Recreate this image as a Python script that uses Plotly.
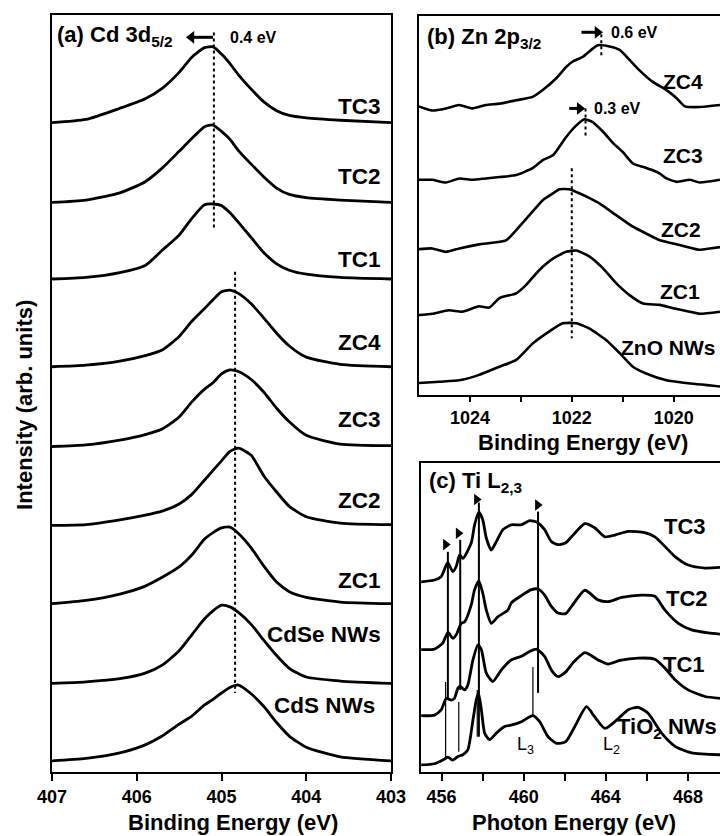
import plotly.graph_objects as go

FONT = "Liberation Sans, Arial, sans-serif"

# ---------------- Panel (a): Cd 3d5/2 XPS ----------------
BE_A = [407.0, 406.6, 406.2, 405.9, 405.7, 405.5, 405.35, 405.2, 405.1, 405.0,
        404.9, 404.8, 404.65, 404.5, 404.35, 404.2, 404.0, 403.6, 403.0]
CDS_A = [0, 0.03, 0.10, 0.20, 0.31, 0.46, 0.56, 0.70, 0.77, 0.85, 0.92, 0.95, 0.84, 0.68, 0.48, 0.31, 0.17, 0.05, 0]
CDSE_A = [0, 0.02, 0.06, 0.13, 0.23, 0.41, 0.61, 0.81, 0.91, 0.98, 0.96, 0.89, 0.74, 0.54, 0.35, 0.19, 0.08, 0.03, 0]
ZC1_A = [0, 0.04, 0.12, 0.22, 0.33, 0.46, 0.61, 0.81, 0.89, 0.95, 0.96, 0.88, 0.70, 0.47, 0.27, 0.15, 0.08, 0.02, 0]
ZC2_A = [0, 0.01, 0.07, 0.13, 0.18, 0.27, 0.39, 0.57, 0.69, 0.81, 0.93, 0.97, 0.88, 0.62, 0.42, 0.24, 0.11, 0.03, 0.01]
ZC3_A = [0, 0.02, 0.08, 0.15, 0.22, 0.37, 0.56, 0.72, 0.80, 0.91, 0.96, 0.94, 0.84, 0.68, 0.48, 0.31, 0.14, 0.03, 0.01]
ZC4_A = [0, 0.02, 0.07, 0.14, 0.21, 0.38, 0.57, 0.73, 0.84, 0.94, 0.96, 0.92, 0.79, 0.61, 0.42, 0.26, 0.12, 0.03, 0]
TC1_A = [0, 0.02, 0.08, 0.17, 0.36, 0.55, 0.76, 0.93, 0.94, 0.92, 0.83, 0.71, 0.52, 0.33, 0.19, 0.11, 0.06, 0.02, 0]
TC2_A = [0, 0.03, 0.12, 0.26, 0.43, 0.64, 0.80, 0.95, 0.97, 0.89, 0.79, 0.65, 0.48, 0.32, 0.18, 0.10, 0.06, 0.03, 0]
TC3_A = [0, 0.04, 0.18, 0.30, 0.43, 0.63, 0.82, 0.94, 0.95, 0.86, 0.74, 0.60, 0.42, 0.26, 0.15, 0.09, 0.06, 0.03, 0]
SERIES_A = [CDS_A, CDSE_A, ZC1_A, ZC2_A, ZC3_A, ZC4_A, TC1_A, TC2_A, TC3_A]
NAMES_A = ["CdS NWs", "CdSe NWs", "ZC1", "ZC2", "ZC3", "ZC4", "TC1", "TC2", "TC3"]
OFFSETS_A = [0, 0.97, 1.97, 2.95, 3.94, 4.94, 6.04, 7.0, 8.0]
LABEL_Y_A = [0.69, 1.58, 2.26, 3.26, 4.28, 5.24, 6.28, 7.32, 8.2]
TICKS_A = [407, 406, 405, 404, 403]

# ---------------- Panel (b): Zn 2p3/2 XPS (stacked values) ----------------
ZNO_E = [1025.0, 1024.60, 1024.21, 1023.82, 1023.42, 1023.09, 1022.77, 1022.44, 1022.18, 1021.91,
         1021.65, 1021.32, 1021.06, 1020.80, 1020.54, 1020.14, 1019.75, 1019.09]
ZNO_I = [0.00, 0.02, 0.04, 0.12, 0.24, 0.34, 0.58, 0.76, 0.88, 0.88,
         0.80, 0.63, 0.44, 0.24, 0.14, 0.04, 0.00, -0.05]
ZC1_E = [1025.0, 1024.74, 1024.41, 1024.15, 1023.82, 1023.62, 1023.42, 1023.09, 1022.90, 1022.64,
         1022.37, 1022.11, 1021.91, 1021.65, 1021.39, 1021.13, 1020.86, 1020.60, 1020.27, 1020.01,
         1019.68, 1019.49, 1019.09]
ZC1_I = [1.00, 1.02, 1.07, 1.05, 1.13, 1.11, 1.25, 1.32, 1.44, 1.66,
         1.83, 1.93, 1.95, 1.86, 1.69, 1.47, 1.29, 1.17, 1.15, 1.10,
         1.05, 1.02, 1.05]
ZC2_E = [1025.0, 1024.74, 1024.47, 1024.21, 1023.82, 1023.29, 1023.09, 1022.83, 1022.57, 1022.37,
         1022.24, 1022.05, 1021.91, 1021.65, 1021.45, 1021.13, 1020.80, 1020.54, 1020.27, 1019.88,
         1019.49, 1019.29, 1019.09]
ZC2_I = [1.97, 1.98, 1.93, 1.98, 2.04, 2.10, 2.25, 2.47, 2.69, 2.79,
         2.85, 2.85, 2.81, 2.72, 2.64, 2.47, 2.30, 2.20, 2.10, 2.03,
         1.96, 1.98, 2.00]
ZC3_E = [1025.0, 1024.74, 1024.47, 1024.21, 1023.95, 1023.69, 1023.42, 1023.09, 1022.77, 1022.57,
         1022.37, 1022.24, 1022.11, 1021.91, 1021.75, 1021.59, 1021.39, 1021.19, 1021.00, 1020.80,
         1020.60, 1020.41, 1020.27, 1020.14, 1019.94, 1019.68, 1019.49, 1019.09]
ZC3_I = [2.99, 2.99, 2.95, 3.01, 2.99, 3.01, 3.03, 3.06, 3.16, 3.28,
         3.35, 3.48, 3.62, 3.79, 3.88, 3.84, 3.70, 3.53, 3.40, 3.23,
         3.18, 3.13, 3.08, 3.01, 2.96, 2.99, 2.95, 2.99]
ZC4_E = [1025.0, 1024.74, 1024.47, 1024.21, 1023.95, 1023.69, 1023.42, 1023.09, 1022.77, 1022.57,
         1022.31, 1022.11, 1021.98, 1021.78, 1021.59, 1021.49, 1021.26, 1021.06, 1020.86, 1020.67,
         1020.41, 1020.14, 1019.94, 1019.78, 1019.49, 1019.09]
ZC4_I = [4.07, 4.01, 4.04, 4.09, 4.04, 4.09, 4.11, 4.16, 4.21, 4.31,
         4.48, 4.65, 4.73, 4.80, 4.92, 4.97, 4.95, 4.90, 4.75, 4.60,
         4.43, 4.31, 4.19, 4.07, 4.06, 4.09]
SERIES_B = [(ZNO_E, ZNO_I), (ZC1_E, ZC1_I), (ZC2_E, ZC2_I), (ZC3_E, ZC3_I), (ZC4_E, ZC4_I)]
NAMES_B = ["ZnO NWs", "ZC1", "ZC2", "ZC3", "ZC4"]
LABEL_POS_B = [(1019.13, 0.53), (1019.45, 1.34), (1019.43, 2.26), (1019.39, 3.35), (1019.39, 4.43)]
TICKS_B = [1024, 1022, 1020]
MINOR_B = [1023, 1021]

# ---------------- Panel (c): Ti L2,3 XAS (stacked values) ----------------
TIO2_E = [455.01, 455.66, 456.15, 456.31, 456.55, 456.80, 457.04, 457.28, 457.53, 457.69,
          457.80, 457.94, 458.10, 458.34, 458.67, 459.07, 459.48, 459.89, 460.45, 460.78,
          461.19, 461.60, 462.05, 462.49, 463.06, 463.46, 463.95, 464.44, 465.09, 465.58,
          466.06, 466.72, 467.37, 468.18, 469.56]
TIO2_I = [0.00, 0.02, 0.10, 0.13, 0.08, 0.14, 0.17, 0.25, 0.75, 1.08,
          1.20, 0.92, 0.53, 0.42, 0.53, 0.64, 0.67, 0.72, 0.82, 0.72,
          0.47, 0.36, 0.39, 0.64, 0.97, 0.80, 0.61, 0.72, 0.92, 0.96,
          0.86, 0.53, 0.31, 0.20, 0.17]
TC1_E = [455.01, 455.66, 455.99, 456.23, 456.47, 456.63, 456.80, 456.91, 457.12, 457.28,
         457.53, 457.77, 457.94, 458.18, 458.50, 458.91, 459.40, 459.89, 460.29, 460.62,
         461.02, 461.35, 461.67, 462.05, 462.40, 462.98, 463.62, 464.11, 464.68, 465.58,
         466.39, 466.88, 467.37, 468.01, 468.83, 469.56]
TC1_I = [0.82, 0.83, 0.92, 1.11, 1.08, 1.11, 1.28, 1.31, 1.25, 1.33,
         1.75, 2.00, 1.92, 1.53, 1.39, 1.58, 1.75, 1.81, 1.89, 1.93,
         1.81, 1.58, 1.47, 1.55, 1.70, 1.87, 1.75, 1.68, 1.74, 1.78,
         1.76, 1.61, 1.42, 1.25, 1.14, 1.11]
TC2_E = [455.01, 455.66, 456.06, 456.31, 456.55, 456.72, 456.96, 457.12, 457.45, 457.61,
         457.82, 458.01, 458.18, 458.42, 458.75, 459.23, 459.40, 459.89, 460.38, 460.70,
         461.02, 461.35, 461.67, 462.05, 462.33, 462.98, 463.62, 464.11, 464.77, 465.74,
         466.39, 466.88, 467.53, 468.18, 468.99, 469.56]
TC2_I = [1.92, 1.93, 2.03, 2.21, 2.11, 2.17, 2.36, 2.38, 2.67, 2.92,
         3.06, 2.86, 2.58, 2.36, 2.47, 2.58, 2.70, 2.82, 2.92, 2.93,
         2.83, 2.64, 2.53, 2.52, 2.64, 2.91, 2.75, 2.72, 2.79, 2.83,
         2.81, 2.58, 2.36, 2.25, 2.20, 2.18]
TC3_E = [455.01, 455.66, 455.99, 456.23, 456.31, 456.55, 456.72, 456.88, 457.04, 457.45,
         457.61, 457.82, 458.01, 458.18, 458.42, 458.67, 458.99, 459.40, 459.89, 460.29,
         460.67, 461.02, 461.35, 461.67, 462.05, 462.33, 462.98, 463.46, 463.95, 464.44,
         465.09, 465.90, 466.39, 466.88, 467.37, 468.01, 468.83, 469.56]
TC3_I = [3.05, 3.08, 3.14, 3.33, 3.37, 3.22, 3.31, 3.50, 3.44, 3.70,
         4.00, 4.21, 4.08, 3.78, 3.58, 3.72, 3.92, 4.00, 4.00, 4.07,
         4.04, 3.92, 3.72, 3.67, 3.70, 3.80, 4.02, 3.95, 3.80, 3.83,
         3.89, 3.87, 3.80, 3.64, 3.47, 3.33, 3.28, 3.29]
SERIES_C = [(TIO2_E, TIO2_I), (TC1_E, TC1_I), (TC2_E, TC2_I), (TC3_E, TC3_I)]
NAMES_C = ["TiO<sub>2</sub> NWs", "TC1", "TC2", "TC3"]
LABEL_POS_C = [(469.5, 0.62), (468.93, 1.68), (469.07, 2.78), (468.98, 3.97)]
TICKS_C = [456, 460, 464, 468]
MINOR_C = [458, 462, 466]

# reference lines (energy, y-from, y-to)
TC_LINES_C = [(456.31, 3.55, 1.08), (456.91, 3.75, 1.25), (457.82, 4.37, 0.47), (460.70, 4.22, 1.20)]
TIO2_LINES_C = [(456.20, 1.38, 0.13), (456.84, 1.05, 0.22), (457.74, 1.25, 0.47), (460.45, 1.63, 0.83)]
MARKERS_C_E = [456.20, 456.82, 457.71, 460.68]
MARKERS_C_Y = [3.67, 3.86, 4.42, 4.33]

# shift arrows: (xaxis, yaxis, shaft tail, shaft end, head centre, y, head symbol)
SHIFT_ARROWS = [("x", "y", 405.10, 405.35, 405.355, 9.07, "triangle-left"),
                ("x2", "y2", 1021.81, 1021.50, 1021.495, 5.16, "triangle-right"),
                ("x2", "y2", 1022.05, 1021.85, 1021.845, 4.04, "triangle-right")]

fig = go.Figure()
LINE = dict(color="black", width=2.8, shape="spline", smoothing=0.6)

for vals, off in zip(SERIES_A, OFFSETS_A):
    fig.add_trace(go.Scatter(x=BE_A, y=[v + off for v in vals], mode="lines", line=LINE,
                             xaxis="x", yaxis="y", showlegend=False, hoverinfo="skip"))
for e, i in SERIES_B:
    fig.add_trace(go.Scatter(x=e, y=i, mode="lines", line=dict(color="black", width=2.6, shape="spline", smoothing=0.5),
                             xaxis="x2", yaxis="y2", showlegend=False, hoverinfo="skip"))
for e, i in SERIES_C:
    fig.add_trace(go.Scatter(x=e, y=i, mode="lines", line=dict(color="black", width=2.8, shape="spline", smoothing=0.6),
                             xaxis="x3", yaxis="y3", showlegend=False, hoverinfo="skip"))
fig.add_trace(go.Scatter(x=MARKERS_C_E, y=MARKERS_C_Y, mode="markers",
                         marker=dict(symbol="triangle-right", size=10, color="black"),
                         xaxis="x3", yaxis="y3", showlegend=False, hoverinfo="skip"))

shapes = []
for xr, yr, x0, x1, xh, yv, sym in SHIFT_ARROWS:
    shapes.append(dict(type="line", xref=xr, yref=yr, x0=x0, x1=x1, y0=yv, y1=yv,
                       line=dict(color="black", width=3)))
    fig.add_trace(go.Scatter(x=[xh], y=[yv], mode="markers",
                             marker=dict(symbol=sym, size=11, color="black"),
                             xaxis=xr, yaxis=yr, showlegend=False, hoverinfo="skip"))

for xr, yr, xv, y0, y1 in [("x", "y", 405.09, 9.13, 6.68), ("x", "y", 404.84, 6.13, 0.85),
                           ("x2", "y2", 1021.42, 5.13, 4.78), ("x2", "y2", 1021.73, 4.04, 3.60),
                           ("x2", "y2", 1022.0, 3.16, 0.66)]:
    shapes.append(dict(type="line", xref=xr, yref=yr, x0=xv, x1=xv, y0=y0, y1=y1,
                       line=dict(color="black", width=2, dash="dot")))
for xv, y0, y1 in TC_LINES_C:
    shapes.append(dict(type="line", xref="x3", yref="y3", x0=xv, x1=xv, y0=y0, y1=y1,
                       line=dict(color="black", width=2)))
for xv, y0, y1 in TIO2_LINES_C:
    shapes.append(dict(type="line", xref="x3", yref="y3", x0=xv, x1=xv, y0=y0, y1=y1,
                       line=dict(color="black", width=1.2)))

ann = []
def txt(x, y, s, xref, yref, size=22, xanchor="right", bold=True, yanchor="middle"):
    ann.append(dict(x=x, y=y, xref=xref, yref=yref, text=(f"<b>{s}</b>" if bold else s),
                    showarrow=False, xanchor=xanchor, yanchor=yanchor,
                    font=dict(family=FONT, size=size, color="black")))

for name, ly in zip(NAMES_A, LABEL_Y_A):
    txt(403.1 if "CdS " not in name else 403.17, ly, name, "x", "y", size=22.5)
for name, (lx, ly) in zip(NAMES_B, LABEL_POS_B):
    txt(lx, ly, name, "x2", "y2", size=21)
for name, (lx, ly) in zip(NAMES_C, LABEL_POS_C):
    txt(lx, ly, name, "x3", "y3", size=22)
txt(460.10, 0.33, "L<sub>3</sub>", "x3", "y3", size=18, xanchor="center", bold=False)
txt(464.29, 0.33, "L<sub>2</sub>", "x3", "y3", size=18, xanchor="center", bold=False)

txt(404.92, 9.07, "0.4 eV", "x", "y", size=16, xanchor="left")
txt(1021.26, 5.16, "0.6 eV", "x2", "y2", size=16, xanchor="left")
txt(1021.61, 4.04, "0.3 eV", "x2", "y2", size=16, xanchor="left")

txt(0.0764, 0.957, "(a) Cd 3d<sub>5/2</sub>", "paper", "paper", size=22, xanchor="left")
txt(0.590, 0.954, "(b) Zn 2p<sub>3/2</sub>", "paper", "paper", size=22, xanchor="left")
txt(0.593, 0.424, "(c) Ti L<sub>2,3</sub>", "paper", "paper", size=22, xanchor="left")

txt(0.3236, 0.0167, "Binding Energy (eV)", "paper", "paper", size=22, xanchor="center")
txt(0.81, 0.471, "Binding Energy (eV)", "paper", "paper", size=22, xanchor="center")
txt(0.797, 0.0167, "Photon Energy (eV)", "paper", "paper", size=22, xanchor="center")
ann.append(dict(x=0.0347, y=0.5156, xref="paper", yref="paper", text="<b>Intensity (arb. units)</b>",
                showarrow=False, textangle=-90, xanchor="center", yanchor="middle",
                font=dict(family=FONT, size=22, color="black")))

def xax(domain, rng, tickvals, anchor, minor_vals=None, ticklen=7):
    d = dict(domain=domain, range=rng, anchor=anchor, tickmode="array", tickvals=tickvals,
             ticktext=[f"<b>{t}</b>" for t in tickvals],
             showline=True, linecolor="black", linewidth=2, mirror=True,
             ticks="outside", ticklen=ticklen, tickwidth=2, tickcolor="black",
             tickfont=dict(family=FONT, size=18, color="black"),
             showgrid=False, zeroline=False, automargin=False)
    if minor_vals:
        d["minor"] = dict(tickmode="array", tickvals=minor_vals, ticks="outside", ticklen=ticklen,
                          tickwidth=2, tickcolor="black", showgrid=False)
    return d

def yax(domain, rng, anchor, mirror):
    return dict(domain=domain, range=rng, anchor=anchor, showline=True, linecolor="black",
                linewidth=2, mirror=mirror, showticklabels=False, ticks="",
                showgrid=False, zeroline=False, automargin=False)

fig.update_layout(
    template="none",
    width=720, height=836, autosize=False,
    margin=dict(l=0, r=0, t=0, b=0, pad=0),
    paper_bgcolor="white", plot_bgcolor="white",
    xaxis=xax([0.0722, 0.5431], [407, 403], TICKS_A, "y"),
    yaxis=yax([0.0766, 0.9821], [-0.14, 9.35], "x", True),
    xaxis2=xax([0.5819, 1.0], [1025, 1019.09], TICKS_B, "y2", MINOR_B, ticklen=5),
    yaxis2=yax([0.5275, 0.9809], [-0.176, 5.40], "x2", False),
    xaxis3=xax([0.5847, 1.0], [455, 469.56], TICKS_C, "y3", MINOR_C),
    yaxis3=yax([0.0766, 0.4462], [-0.117, 5.03], "x3", False),
    shapes=shapes,
    annotations=ann,
    showlegend=False,
)

fig.write_html("out.html", config={"displayModeBar": False},
               post_script="document.body.style.margin='0px';")
